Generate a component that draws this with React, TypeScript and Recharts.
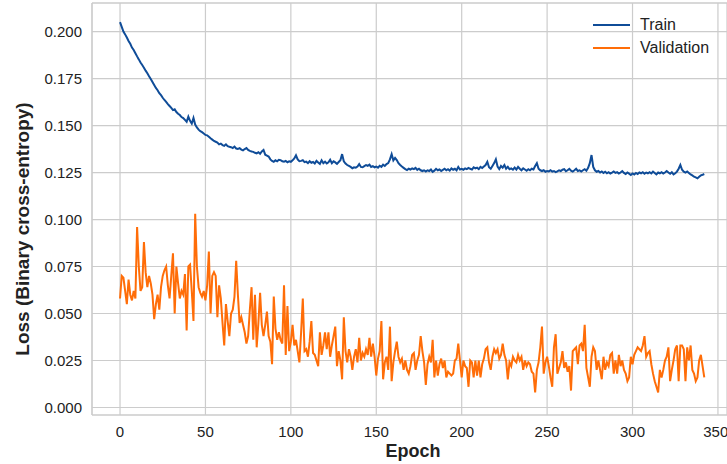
import React from 'react';
import { LineChart, Line, XAxis, YAxis, CartesianGrid, Legend, ReferenceLine, Label } from 'recharts';

// loss per epoch
const trainLoss = [
  0.2050, 0.2025, 0.2000, 0.1985, 0.1968, 0.1950, 0.1935, 0.1915, 0.1902, 0.1885,
  0.1868, 0.1852, 0.1835, 0.1822, 0.1808, 0.1792, 0.1778, 0.1762, 0.1748, 0.1732,
  0.1716, 0.1700, 0.1688, 0.1672, 0.1662, 0.1648, 0.1636, 0.1626, 0.1614, 0.1604,
  0.1594, 0.1582, 0.1586, 0.1572, 0.1563, 0.1556, 0.1545, 0.1540, 0.1530, 0.1520,
  0.1547, 0.1525, 0.1510, 0.1540, 0.1505, 0.1490, 0.1478, 0.1470, 0.1465, 0.1458,
  0.1450, 0.1448, 0.1440, 0.1432, 0.1425, 0.1418, 0.1414, 0.1410, 0.1400, 0.1404,
  0.1396, 0.1392, 0.1400, 0.1390, 0.1387, 0.1385, 0.1380, 0.1388, 0.1378, 0.1376,
  0.1380, 0.1372, 0.1368, 0.1375, 0.1380, 0.1370, 0.1365, 0.1362, 0.1360, 0.1355,
  0.1352, 0.1358, 0.1350, 0.1362, 0.1370, 0.1345, 0.1340, 0.1335, 0.1320, 0.1312,
  0.1307, 0.1315, 0.1310, 0.1318, 0.1316, 0.1310, 0.1308, 0.1312, 0.1305, 0.1310,
  0.1307, 0.1315, 0.1325, 0.1342, 0.1320, 0.1310, 0.1312, 0.1316, 0.1305, 0.1308,
  0.1300, 0.1310, 0.1302, 0.1306, 0.1298, 0.1312, 0.1304, 0.1296, 0.1315, 0.1300,
  0.1308, 0.1298, 0.1305, 0.1318, 0.1300, 0.1310, 0.1304, 0.1296, 0.1306, 0.1315,
  0.1348, 0.1310, 0.1298, 0.1290, 0.1285, 0.1280, 0.1273, 0.1278, 0.1276, 0.1282,
  0.1295, 0.1280, 0.1278, 0.1284, 0.1290, 0.1286, 0.1292, 0.1280, 0.1284, 0.1278,
  0.1282, 0.1276, 0.1286, 0.1280, 0.1292, 0.1285, 0.1295, 0.1300, 0.1320, 0.1348,
  0.1315, 0.1328, 0.1316, 0.1300, 0.1290, 0.1282, 0.1275, 0.1268, 0.1263, 0.1270,
  0.1266, 0.1272, 0.1268, 0.1275, 0.1264, 0.1270, 0.1262, 0.1258, 0.1262, 0.1255,
  0.1262, 0.1258, 0.1266, 0.1254, 0.1260, 0.1270, 0.1262, 0.1266, 0.1258, 0.1264,
  0.1270, 0.1262, 0.1268, 0.1260, 0.1272, 0.1265, 0.1270, 0.1262, 0.1280, 0.1266,
  0.1270, 0.1265, 0.1272, 0.1268, 0.1275, 0.1270, 0.1266, 0.1278, 0.1272, 0.1276,
  0.1268, 0.1280, 0.1274, 0.1282, 0.1290, 0.1307, 0.1278, 0.1270, 0.1285, 0.1300,
  0.1320, 0.1282, 0.1268, 0.1285, 0.1276, 0.1290, 0.1270, 0.1280, 0.1268, 0.1272,
  0.1265, 0.1276, 0.1266, 0.1280, 0.1270, 0.1262, 0.1272, 0.1266, 0.1260, 0.1268,
  0.1262, 0.1270, 0.1266, 0.1285, 0.1300, 0.1270, 0.1262, 0.1258, 0.1262, 0.1254,
  0.1258, 0.1256, 0.1262, 0.1255, 0.1258, 0.1252, 0.1256, 0.1262, 0.1258, 0.1265,
  0.1268, 0.1257, 0.1262, 0.1270, 0.1260, 0.1255, 0.1262, 0.1270, 0.1258, 0.1262,
  0.1255, 0.1262, 0.1268, 0.1260, 0.1275, 0.1300, 0.1343, 0.1280, 0.1262, 0.1254,
  0.1258, 0.1250, 0.1256, 0.1248, 0.1254, 0.1246, 0.1252, 0.1245, 0.1250, 0.1256,
  0.1248, 0.1252, 0.1245, 0.1250, 0.1258, 0.1248, 0.1242, 0.1250, 0.1244, 0.1237,
  0.1245, 0.1240, 0.1248, 0.1242, 0.1250, 0.1246, 0.1252, 0.1244, 0.1250, 0.1246,
  0.1252, 0.1245, 0.1255, 0.1248, 0.1240, 0.1250, 0.1246, 0.1252, 0.1245, 0.1250,
  0.1258, 0.1250, 0.1244, 0.1252, 0.1240, 0.1246, 0.1255, 0.1270, 0.1290, 0.1265,
  0.1255, 0.1250, 0.1256, 0.1248, 0.1240, 0.1235, 0.1228, 0.1224, 0.1219, 0.1228,
  0.1235, 0.1238, 0.1242,
];

const validationLoss = [
  0.058, 0.070, 0.069, 0.062, 0.055, 0.068, 0.060, 0.057, 0.062, 0.058,
  0.096, 0.075, 0.062, 0.064, 0.088, 0.072, 0.064, 0.070, 0.066, 0.060,
  0.047, 0.055, 0.060, 0.052, 0.064, 0.070, 0.073, 0.075, 0.065, 0.058,
  0.070, 0.082, 0.050, 0.075, 0.066, 0.058, 0.062, 0.060, 0.071, 0.041,
  0.075, 0.076, 0.062, 0.046, 0.103, 0.075, 0.064, 0.061, 0.059, 0.062,
  0.057, 0.065, 0.083, 0.050, 0.070, 0.072, 0.070, 0.048, 0.065, 0.058,
  0.045, 0.033, 0.055, 0.046, 0.038, 0.050, 0.052, 0.059, 0.078, 0.060,
  0.045, 0.048, 0.044, 0.040, 0.034, 0.038, 0.052, 0.064, 0.036, 0.060,
  0.032, 0.045, 0.061, 0.044, 0.038, 0.044, 0.051, 0.038, 0.035, 0.023,
  0.059, 0.042, 0.036, 0.040, 0.036, 0.034, 0.065, 0.028, 0.054, 0.030,
  0.035, 0.044, 0.033, 0.036, 0.030, 0.024, 0.040, 0.058, 0.030, 0.031,
  0.027, 0.035, 0.046, 0.029, 0.028, 0.025, 0.022, 0.040, 0.028, 0.033,
  0.040, 0.031, 0.040, 0.027, 0.033, 0.038, 0.043, 0.022, 0.030, 0.025,
  0.015, 0.048, 0.030, 0.024, 0.031, 0.027, 0.020, 0.027, 0.031, 0.024,
  0.037, 0.025, 0.029, 0.027, 0.031, 0.028, 0.037, 0.027, 0.034, 0.027,
  0.017, 0.026, 0.030, 0.046, 0.015, 0.024, 0.027, 0.020, 0.043, 0.014,
  0.024, 0.030, 0.035, 0.027, 0.024, 0.026, 0.020, 0.025, 0.020, 0.018,
  0.022, 0.028, 0.029, 0.020, 0.025, 0.028, 0.038, 0.030, 0.024, 0.012,
  0.023, 0.027, 0.024, 0.036, 0.016, 0.025, 0.017, 0.023, 0.026, 0.021,
  0.025, 0.016, 0.019, 0.018, 0.017, 0.018, 0.025, 0.026, 0.034, 0.025,
  0.016, 0.025, 0.022, 0.021, 0.011, 0.025, 0.024, 0.016, 0.025, 0.017,
  0.025, 0.016, 0.023, 0.026, 0.031, 0.032, 0.024, 0.020, 0.027, 0.031,
  0.029, 0.031, 0.026, 0.028, 0.034, 0.028, 0.025, 0.015, 0.024, 0.022,
  0.027, 0.025, 0.024, 0.028, 0.025, 0.027, 0.020, 0.025, 0.022, 0.024,
  0.023, 0.019, 0.018, 0.008, 0.020, 0.024, 0.032, 0.043, 0.018, 0.024,
  0.027, 0.022, 0.016, 0.011, 0.032, 0.039, 0.018, 0.021, 0.024, 0.030,
  0.021, 0.024, 0.019, 0.022, 0.009, 0.030, 0.031, 0.032, 0.023, 0.033,
  0.034, 0.030, 0.044, 0.021, 0.016, 0.011, 0.027, 0.032, 0.030, 0.020,
  0.025, 0.020, 0.015, 0.027, 0.020, 0.024, 0.022, 0.028, 0.029, 0.018,
  0.025, 0.018, 0.028, 0.022, 0.025, 0.020, 0.018, 0.014, 0.016, 0.027,
  0.023, 0.028, 0.030, 0.032, 0.031, 0.030, 0.033, 0.038, 0.027, 0.029,
  0.030, 0.023, 0.018, 0.014, 0.011, 0.008, 0.020, 0.016, 0.020, 0.025,
  0.027, 0.032, 0.014, 0.020, 0.025, 0.031, 0.033, 0.014, 0.033, 0.033,
  0.031, 0.014, 0.032, 0.025, 0.033, 0.020, 0.018, 0.014, 0.016, 0.025,
  0.028, 0.022, 0.016,
];

const xTicks = [0, 50, 100, 150, 200, 250, 300, 350];
const yTicks = [0, 0.025, 0.05, 0.075, 0.1, 0.125, 0.15, 0.175, 0.2];

const TRAIN_COLOR = '#0f4c98';
const VAL_COLOR = '#ff6d08';
const GRID = '#cccccc';
const TEXT = '#222222';
const FONT = '"Liberation Sans", Arial, sans-serif';

const legendItems = [
  { name: 'Train', color: TRAIN_COLOR },
  { name: 'Validation', color: VAL_COLOR },
];

const X_DOMAIN: [number, number] = [-16.4, 355.3];
const Y_DOMAIN: [number, number] = [-0.004, 0.2152];

const data = trainLoss.map((t, i) => ({
  epoch: i,
  train: t,
  validation: validationLoss[i],
}));

function LegendBox() {
  return (
    <div style={{ fontFamily: FONT, fontSize: 16, color: TEXT }}>
      {legendItems.map((item) => (
        <div key={item.name} style={{ display: 'flex', alignItems: 'center', height: 23 }}>
          <svg width={50} height={10}>
            <line x1={3} x2={40} y1={5} y2={5} stroke={item.color} strokeWidth={2} />
          </svg>
          <span>{item.name}</span>
        </div>
      ))}
    </div>
  );
}

export default function App() {
  return (
    <div style={{ position: 'absolute', left: 0, top: 0, width: 727, height: 464, background: '#fff' }}>
      <LineChart width={727} height={464} data={data} margin={{ top: 3, right: 0, bottom: 0, left: 0 }}>
        <CartesianGrid stroke={GRID} strokeWidth={1.2} />
        <XAxis
          dataKey="epoch"
          type="number"
          domain={X_DOMAIN}
          ticks={xTicks}
          allowDataOverflow
          height={49}
          tickSize={0}
          tickMargin={11}
          axisLine={{ stroke: GRID, strokeWidth: 1.2 }}
          tick={{ fill: TEXT, fontSize: 15, fontFamily: FONT }}
        >
          <Label
            content={() => (
              <text x={413} y={457} textAnchor="middle" fill={TEXT} fontSize={18} fontWeight="bold" fontFamily={FONT}>
                Epoch
              </text>
            )}
          />
        </XAxis>
        <YAxis
          type="number"
          domain={Y_DOMAIN}
          ticks={yTicks}
          allowDataOverflow
          width={92}
          tickSize={0}
          tickMargin={10}
          tickFormatter={(v: number) => v.toFixed(3)}
          axisLine={{ stroke: GRID, strokeWidth: 1.2 }}
          tick={{ fill: TEXT, fontSize: 15, fontFamily: FONT }}
        >
          <Label
            content={() => (
              <text
                x={22}
                y={229}
                transform="rotate(-90, 22, 229)"
                textAnchor="middle"
                dominantBaseline="central"
                fill={TEXT}
                fontSize={19}
                fontWeight="bold"
                fontFamily={FONT}
              >
                Loss (Binary cross-entropy)
              </text>
            )}
          />
        </YAxis>
        <ReferenceLine y={Y_DOMAIN[1]} stroke={GRID} strokeWidth={1.2} />
        <Legend
          layout="vertical"
          align="center"
          verticalAlign="middle"
          content={() => <LegendBox />}
          wrapperStyle={{ left: 590, top: 13, width: 137 }}
        />
        <Line
          type="linear"
          dataKey="train"
          name="Train"
          stroke={TRAIN_COLOR}
          strokeWidth={2}
          dot={false}
          isAnimationActive={false}
        />
        <Line
          type="linear"
          dataKey="validation"
          name="Validation"
          stroke={VAL_COLOR}
          strokeWidth={2}
          dot={false}
          isAnimationActive={false}
        />
      </LineChart>
    </div>
  );
}
